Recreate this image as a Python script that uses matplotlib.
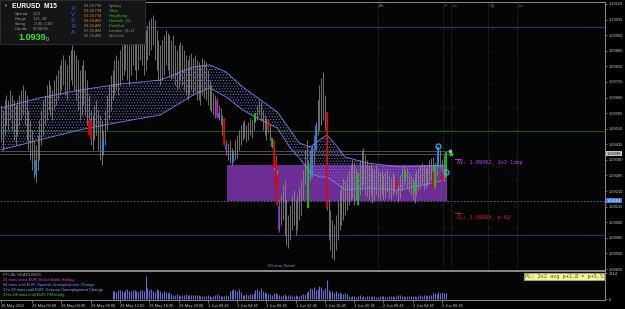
import numpy as np
import matplotlib
matplotlib.use("Agg")
import matplotlib.pyplot as plt
from matplotlib.patches import Rectangle
from matplotlib.lines import Line2D

plt.rcParams['font.family'] = ['Liberation Sans', 'DejaVu Sans']
plt.rcParams['hatch.linewidth'] = 0.45

# EURUSD M15 bars, prices in points above 1.0 (9648 -> 1.09648)
highs_pt = [
    9624, 9600, 9648, 9672, 9648, 9696, 9672, 9648, 9624, 9648,
    9672, 9696, 9720, 9696, 9672, 9600, 9552, 9504, 9456, 9432,
    9480, 9552, 9600, 9648, 9672, 9720, 9744, 9720, 9696, 9744,
    9768, 9792, 9817, 9841, 9865, 9841, 9817, 9865, 9889, 9913,
    9889, 9865, 9841, 9792, 9817, 9841, 9792, 9744, 9672, 9600,
    9576, 9624, 9648, 9600, 9576, 9552, 9504, 9600, 9672, 9720,
    9768, 9792, 9841, 9865, 9841, 9889, 9913, 9937, 9961, 9937,
    9913, 9937, 9985, 9961, 9937, 9985, 10009, 9985, 9961, 9985,
    10009, 10033, 10042, 10057, 10033, 9985, 9937, 9913, 9937, 9961,
    9985, 9970, 9961, 9937, 9961, 9913, 9889, 9913, 9927, 9913,
    9889, 9865, 9841, 9865, 9874, 9850, 9865, 9841, 9831, 9817,
    9850, 9841, 9831, 9792, 9744, 9720, 9682, 9672, 9658, 9624,
    9609, 9576, 9561, 9456, 9441, 9456, 9417, 9408, 9456, 9480,
    9504, 9528, 9542, 9552, 9528, 9542, 9561, 9552, 9576, 9585,
    9624, 9648, 9638, 9600, 9576, 9561, 9552, 9528, 9465, 9456,
    9384, 9311, 9167, 9191, 9239, 9263, 9167, 9095, 9143, 9191,
    9215, 9167, 9191, 9229, 9263, 9311, 9408, 9456, 9359, 9408,
    9432, 9480, 9542, 9648, 9720, 9754, 9783, 9672, 9590, 9167,
    9119, 9071, 9047, 9095, 9167, 9215, 9239, 9273, 9263, 9287,
    9311, 9335, 9359, 9350, 9321, 9297, 9359, 9408, 9417, 9384,
    9359, 9335, 9345, 9321, 9311, 9335, 9321, 9302, 9311, 9287,
    9302, 9311, 9287, 9273, 9302, 9287, 9273, 9239, 9287, 9321,
    9335, 9311, 9321, 9302, 9287, 9273, 9297, 9311, 9321, 9335,
    9345, 9335, 9321, 9335, 9359, 9369, 9374, 9350, 9384, 9426,
    9408, 9359, 9384, 9398]
lows_pt = [
    9456, 9408, 9480, 9528, 9504, 9552, 9504, 9456, 9432, 9480,
    9528, 9552, 9576, 9528, 9456, 9408, 9359, 9311, 9273, 9253,
    9311, 9359, 9432, 9480, 9528, 9552, 9600, 9576, 9552, 9600,
    9624, 9648, 9672, 9696, 9720, 9672, 9648, 9696, 9744, 9720,
    9696, 9648, 9600, 9552, 9576, 9624, 9576, 9528, 9480, 9432,
    9408, 9456, 9480, 9408, 9359, 9335, 9384, 9432, 9504, 9552,
    9600, 9648, 9672, 9696, 9672, 9720, 9744, 9768, 9792, 9744,
    9720, 9768, 9817, 9792, 9744, 9792, 9841, 9817, 9768, 9792,
    9841, 9865, 9889, 9913, 9841, 9792, 9744, 9720, 9744, 9768,
    9817, 9792, 9768, 9744, 9754, 9720, 9696, 9706, 9744, 9720,
    9696, 9672, 9648, 9672, 9696, 9672, 9686, 9648, 9648, 9624,
    9672, 9658, 9648, 9624, 9600, 9590, 9576, 9561, 9561, 9552,
    9528, 9480, 9432, 9384, 9359, 9345, 9335, 9350, 9359, 9369,
    9408, 9432, 9456, 9465, 9446, 9456, 9480, 9465, 9504, 9542,
    9552, 9576, 9552, 9504, 9480, 9456, 9494, 9456, 9417, 9311,
    9215, 9143, 9012, 9047, 9071, 8999, 8951, 8935, 8975, 9023,
    9047, 8999, 9023, 9071, 9095, 9167, 9239, 9287, 9128, 9263,
    9278, 9335, 9408, 9480, 9504, 9528, 9552, 9504, 9119, 8975,
    8926, 8887, 8878, 8926, 8975, 9023, 9047, 9071, 9095, 9119,
    9143, 9167, 9176, 9143, 9167, 9143, 9191, 9215, 9239, 9191,
    9181, 9167, 9191, 9152, 9167, 9191, 9176, 9167, 9191, 9167,
    9176, 9205, 9176, 9167, 9191, 9205, 9191, 9157, 9176, 9215,
    9239, 9263, 9225, 9205, 9191, 9167, 9152, 9191, 9215, 9225,
    9239, 9215, 9225, 9239, 9253, 9263, 9225, 9225, 9282, 9326,
    9321, 9253, 9273, 9278]

# PVSRA coloured bodies
body_idx = [19, 48, 49, 56, 118, 119, 122, 123, 127, 139, 146, 148, 149, 150, 151,
            152, 168, 170, 172, 178, 195, 216, 221, 226, 236, 237, 239, 241, 243]
body_top = [9359, 9552, 9552, 9456, 9648, 9585, 9561, 9432, 9384, 9585, 9552, 9465, 9456, 9359, 9287,
            9138, 9335, 9422, 9528, 9590, 9297, 9273, 9302, 9253, 9302, 9335, 9422, 9302, 9398]
body_bot = [9287, 9480, 9456, 9398, 9566, 9561, 9432, 9408, 9350, 9542, 9504, 9422, 9321, 9225, 9143,
            9023, 9128, 9278, 9408, 9128, 9143, 9215, 9273, 9201, 9225, 9225, 9326, 9253, 9278]
body_col = ['b', 'r', 'r', 'b', 'm', 'b', 'r', 'p', 'b', 'g', 'r', 'g', 'r', 'r', 'r',
            'p', 'g', 'b', 'b', 'r', 'g', 'r', 'g', 'g', 'r', 'g', 'b', 'r', 'g']
pvsra_colors = {'r': '#e00000', 'g': '#00d800', 'b': '#1e8cff', 'm': '#e000e0', 'p': '#9a30e0'}

# 50 ema ribbon edges
band_idx = [0, 21, 43, 65, 87, 105, 114, 123, 132, 142, 151, 158, 163, 169, 174, 178, 183, 188, 200, 218, 243]
band_up_pt = [9610, 9658, 9696, 9725, 9744, 9807, 9817, 9783, 9711, 9648, 9590, 9504, 9441, 9422, 9456,
              9480, 9432, 9374, 9345, 9326, 9335]
band_lo_pt = [9408, 9456, 9504, 9542, 9576, 9672, 9706, 9663, 9600, 9552, 9513, 9417, 9369, 9297, 9278,
              9278, 9249, 9215, 9225, 9215, 9263]

# tick volume, starting at bar 61
vol_start = 61
volumes = [
    820, 900, 760, 950, 1000, 880, 720, 980, 1050, 900, 830, 960, 1020, 870, 760, 930, 1000, 880,
    2450,
    1150, 980, 1050, 880, 760, 1120, 950, 820, 700, 860, 780, 640, 720, 600,
    480, 420, 520, 450, 380, 470, 430, 500, 410, 450, 390, 480, 420, 460, 400,
    320, 280, 350, 300, 420, 380, 260, 310, 450, 520, 400, 350, 300, 380, 420, 360,
    850, 1000, 1120, 950, 880, 1050, 760,
    480, 420, 550, 460, 520, 600, 700,
    980, 1100, 900, 1150, 850, 780, 650,
    520, 600, 480, 650, 700, 560, 450, 380, 420, 500, 350, 400, 460, 380, 320, 420, 360, 300, 450, 520, 600,
    800, 900, 1200, 1050, 1350, 950, 1100, 1450, 1300, 1000, 1150,
    2050,
    950, 800, 880, 700, 820, 650, 750, 600, 550, 650, 500,
    300, 250, 350, 280, 220, 320, 400, 260, 300, 200, 350, 280, 240, 300, 380, 260, 220, 300, 340, 280,
    250, 200, 320, 360, 300, 260, 280, 400, 450, 350, 300, 260, 320, 380, 300, 340, 280, 250, 300, 420,
    380, 450, 400, 350, 480, 420,
    650, 700, 600, 750, 680, 720, 640, 700]

round_levels = [1.1000, 1.0950, 1.0900]
round_colors = ['#1c3a78', '#1d5a1d', '#1c3a78']
ask, bid = 1.09405, 1.09390
sl_price = 1.09164
av_price = 1.09362
zone_top = 1.09335
zone_start = 123.5

session_idx = [206, 241.5, 246, 266, 282]
session_names = ['Au', 'F', 'Lo', 'Ny', 'Lo']

circ_idx = [239, 243.2]
circ_price = [1.09427, 1.09302]

price_ticks = [1.10110, 1.10035, 1.09960, 1.09885, 1.09810, 1.09735, 1.09660, 1.09585, 1.09510,
               1.09435, 1.09360, 1.09285, 1.09210, 1.09135, 1.09060, 1.08985, 1.08910, 1.08835]
time_idx = [0, 17, 33, 49, 65, 81, 97, 113, 129, 145, 161, 177, 193, 209, 225, 241]
time_labels = ['28 May 2015', '29 May 00:00', '29 May 04:00', '29 May 08:00', '29 May 12:00',
               '29 May 16:00', '29 May 20:00', '1 Jun 00:45', '1 Jun 04:45', '1 Jun 08:45',
               '1 Jun 12:45', '1 Jun 16:45', '1 Jun 20:45', '2 Jun 00:45', '2 Jun 04:45', '2 Jun 08:45']

to_price = lambda pts: 1 + np.asarray(pts) / 1e5

W, H = 625, 309
fig = plt.figure(figsize=(W / 100, H / 100), dpi=100, facecolor='black')
ax = fig.add_axes([0, 1 - 270 / H, 605 / W, 268 / H], facecolor='#050505')
axv = fig.add_axes([0, 9 / H, 605 / W, 29 / H], facecolor='#050505', sharex=ax)

xmin, xmax = -0.55, 330.05
ax.set_xlim(xmin, xmax)
ax.set_ylim(1.088302, 1.101196)

idx = np.arange(len(highs_pt))

# zone + levels
ax.add_patch(Rectangle((zone_start, sl_price), idx[-1] + 0.5 - zone_start, zone_top - sl_price,
                       fc='#6c2d94', ec='none', zorder=1))
for lv, c in zip(round_levels, round_colors):
    ax.axhline(lv, color=c, lw=0.7, zorder=2)
ax.hlines([ask, bid], xmin, idx[-1] + 3, color='#5a5a5a', lw=0.6, zorder=2)
ax.axhline(sl_price, color='#5a78b0', lw=0.6, ls=(0, (2, 2)), zorder=2)
for s in session_idx:
    ax.axvline(s, color='#3c3c3c', lw=0.6, ls=(0, (1, 1.5)), zorder=2)
for s, n in zip(session_idx, session_names):
    ax.text(s + 0.8, 0.985, n, transform=ax.get_xaxis_transform(), color='#8b8b00',
            fontsize=3, va='center', ha='left')

# ema ribbon
bu, bl = to_price(band_up_pt), to_price(band_lo_pt)
ax.fill_between(band_idx, bl, bu, facecolor='none', edgecolor='#7272d8', hatch='......', lw=0, zorder=3)
ax.plot(band_idx, bu, color='#8080e8', lw=0.6, zorder=3)
ax.plot(band_idx, bl, color='#8080e8', lw=0.6, zorder=3)

# bars
ax.vlines(idx, to_price(lows_pt), to_price(highs_pt), color='#8e8e8e', lw=0.55, zorder=4)
ax.vlines(body_idx, to_price(body_bot), to_price(body_top),
          color=[pvsra_colors[c] for c in body_col], lw=1.2, zorder=5)

ax.plot(circ_idx, circ_price, 'o', mfc='none', mec='#38b8ff', ms=3.6, mew=0.8, zorder=6)
ax.plot([245.5], [ask], 's', color='#b0b0b0', ms=1.6, zorder=6)
ax.plot([246], [bid], 's', color='#00e000', ms=1.6, zorder=6)

# right price axis
ax.yaxis.tick_right()
ax.set_yticks(price_ticks)
ax.set_yticklabels(['%.5f' % p for p in price_ticks])
ax.tick_params(axis='y', length=1.5, width=0.5, color='#909090', labelcolor='#c8c8c8',
               labelsize=2.9, pad=1)
ax.tick_params(axis='x', bottom=False, labelbottom=False)
ax.spines['left'].set_visible(False)
for sp in ['top', 'right', 'bottom']:
    ax.spines[sp].set_color('#8a8a8a')
    ax.spines[sp].set_linewidth(0.7)

yt = ax.get_yaxis_transform()
ax.text(1.003, bid, '%.5f' % bid, transform=yt, fontsize=2.9, color='black', va='center',
        bbox=dict(fc='#c8c8c8', ec='none', pad=0.4), clip_on=False)
ax.text(1.003, sl_price, '%.5f' % sl_price, transform=yt, fontsize=2.9, color='white', va='center',
        bbox=dict(fc='#3c7ad8', ec='none', pad=0.4), clip_on=False)

# volume panel
vol_idx = np.arange(vol_start, vol_start + len(volumes))
axv.vlines(vol_idx, 0, volumes, color='#6a6ac4', lw=0.8)
axv.set_ylim(-100, 3030)
axv.yaxis.tick_right()
axv.set_yticks([0, 2814])
axv.set_yticklabels(['0', '2814'])
axv.tick_params(axis='y', length=1.5, width=0.5, color='#909090', labelcolor='#c8c8c8',
                labelsize=2.9, pad=1)
axv.set_xticks(time_idx)
axv.set_xticklabels(time_labels)
axv.tick_params(axis='x', length=2, width=0.5, color='#909090', labelcolor='#c8c8c8',
                labelsize=2.9, pad=1)
for lbl in axv.get_xticklabels():
    lbl.set_ha('left')
axv.spines['left'].set_visible(False)
for sp in ['top', 'right', 'bottom']:
    axv.spines[sp].set_color('#8a8a8a')
    axv.spines[sp].set_linewidth(0.7)


def ftext(x, y, s, **kw):
    kw.setdefault('va', 'center')
    kw.setdefault('zorder', 12)
    return fig.text(x / W, 1 - y / H, s, **kw)


# info box
fig.patches.append(Rectangle((0, 1 - 44 / H), 145 / W, 44 / H, transform=fig.transFigure,
                             fc='#151515', ec='#3a3a3a', lw=0.5, zorder=10))
ftext(3, 6, '▼', fontsize=2.8, color='#b0b0b0')
ftext(12, 6.5, 'EURUSD  M15', fontsize=4.8, color='white', weight='bold')
for k, (a, b) in enumerate([('Spread', '1.50'), ('Range', '121, 28'),
                            ('Swing', '-2.00, 0.00'), ('Candle', '00:00:06')]):
    ftext(15, 14 + 5 * k, a, fontsize=3, color='#9a9a9a')
    ftext(33, 14 + 5 * k, b, fontsize=3, color='#9a9a9a')
ftext(18, 38, '1.0939', fontsize=6.5, color='#3ce03c', weight='bold')
ftext(46, 39.5, '0', fontsize=3.8, color='#d0d0d0')
for k, ch in enumerate('PVSRA'):
    ftext(71, 9 + 6 * k, ch, fontsize=4.4, color='#3a5cff')
clock_times = ['04:26 PM', '03:26 PM', '03:26 PM', '09:26 AM', '09:26 AM', '07:26 AM', '02:26 AM']
clock_cols = ['#8a8a8a', '#c8803a', '#c8803a', '#c8803a', '#c8803a', '#8a8a8a', '#8a8a8a']
cities = ['Sydney', 'Tokyo', 'HongKong', 'Helsinki  (S)', 'Frankfurt', 'London  (S+1)', 'NewYork']
city_cols = ['#8a8a8a', '#3cb83c', '#3cb83c', '#3cb83c', '#3cb83c', '#8a8a8a', '#8a8a8a']
for k in range(7):
    ftext(84, 6 + 5 * k, clock_times[k], fontsize=2.9, color=clock_cols[k])
    ftext(109, 6 + 5 * k, cities[k], fontsize=2.9, color=city_cols[k])

# trade annotations
ftext(457, 163, 'AV: 1.09362, 2x2 1cmp', fontsize=3.8, color='#c040ff', family='DejaVu Sans Mono')
ftext(457, 217, 'SL: 1.09164, p-62', fontsize=3.8, color='#e02020', family='DejaVu Sans Mono')
fig.add_artist(Line2D([455 / W, 461 / W], [1 - 159 / H] * 2, color='#c040ff', lw=0.6))
fig.add_artist(Line2D([455 / W, 461 / W], [1 - 213 / H] * 2, color='#e02020', lw=0.6))
ftext(268, 266, '50 ema Trend', fontsize=3.2, color='#8c8cf0')

# news headlines
ftext(3, 274.5, 'FFCAL HEADLINES:', fontsize=3.0, color='#a0a0a0')
news = ['25 mins since EUR: Italian Bank Holiday', '04 mins until EUR: Spanish Unemployment Change',
        '1 hr 29 mins until EUR: German Unemployment Change', '2 hrs 04 mins until EUR: PMIs/mfg']
news_cols = ['#e040e0', '#7a90ff', '#8aa8ff', '#40d040']
for k, (s, c) in enumerate(zip(news, news_cols)):
    ftext(3, 280 + 5 * k, s, fontsize=2.9, color=c)

ftext(603, 276.5, 'PL: 2x2 avg p+2.8 = p+5.5', fontsize=3.8, color='#4a5a10', ha='right',
      family='DejaVu Sans Mono', bbox=dict(fc='#f4f4a0', ec='#b8b860', lw=0.5, pad=0.9))

fig.savefig('out.png', dpi=100, facecolor='black')
